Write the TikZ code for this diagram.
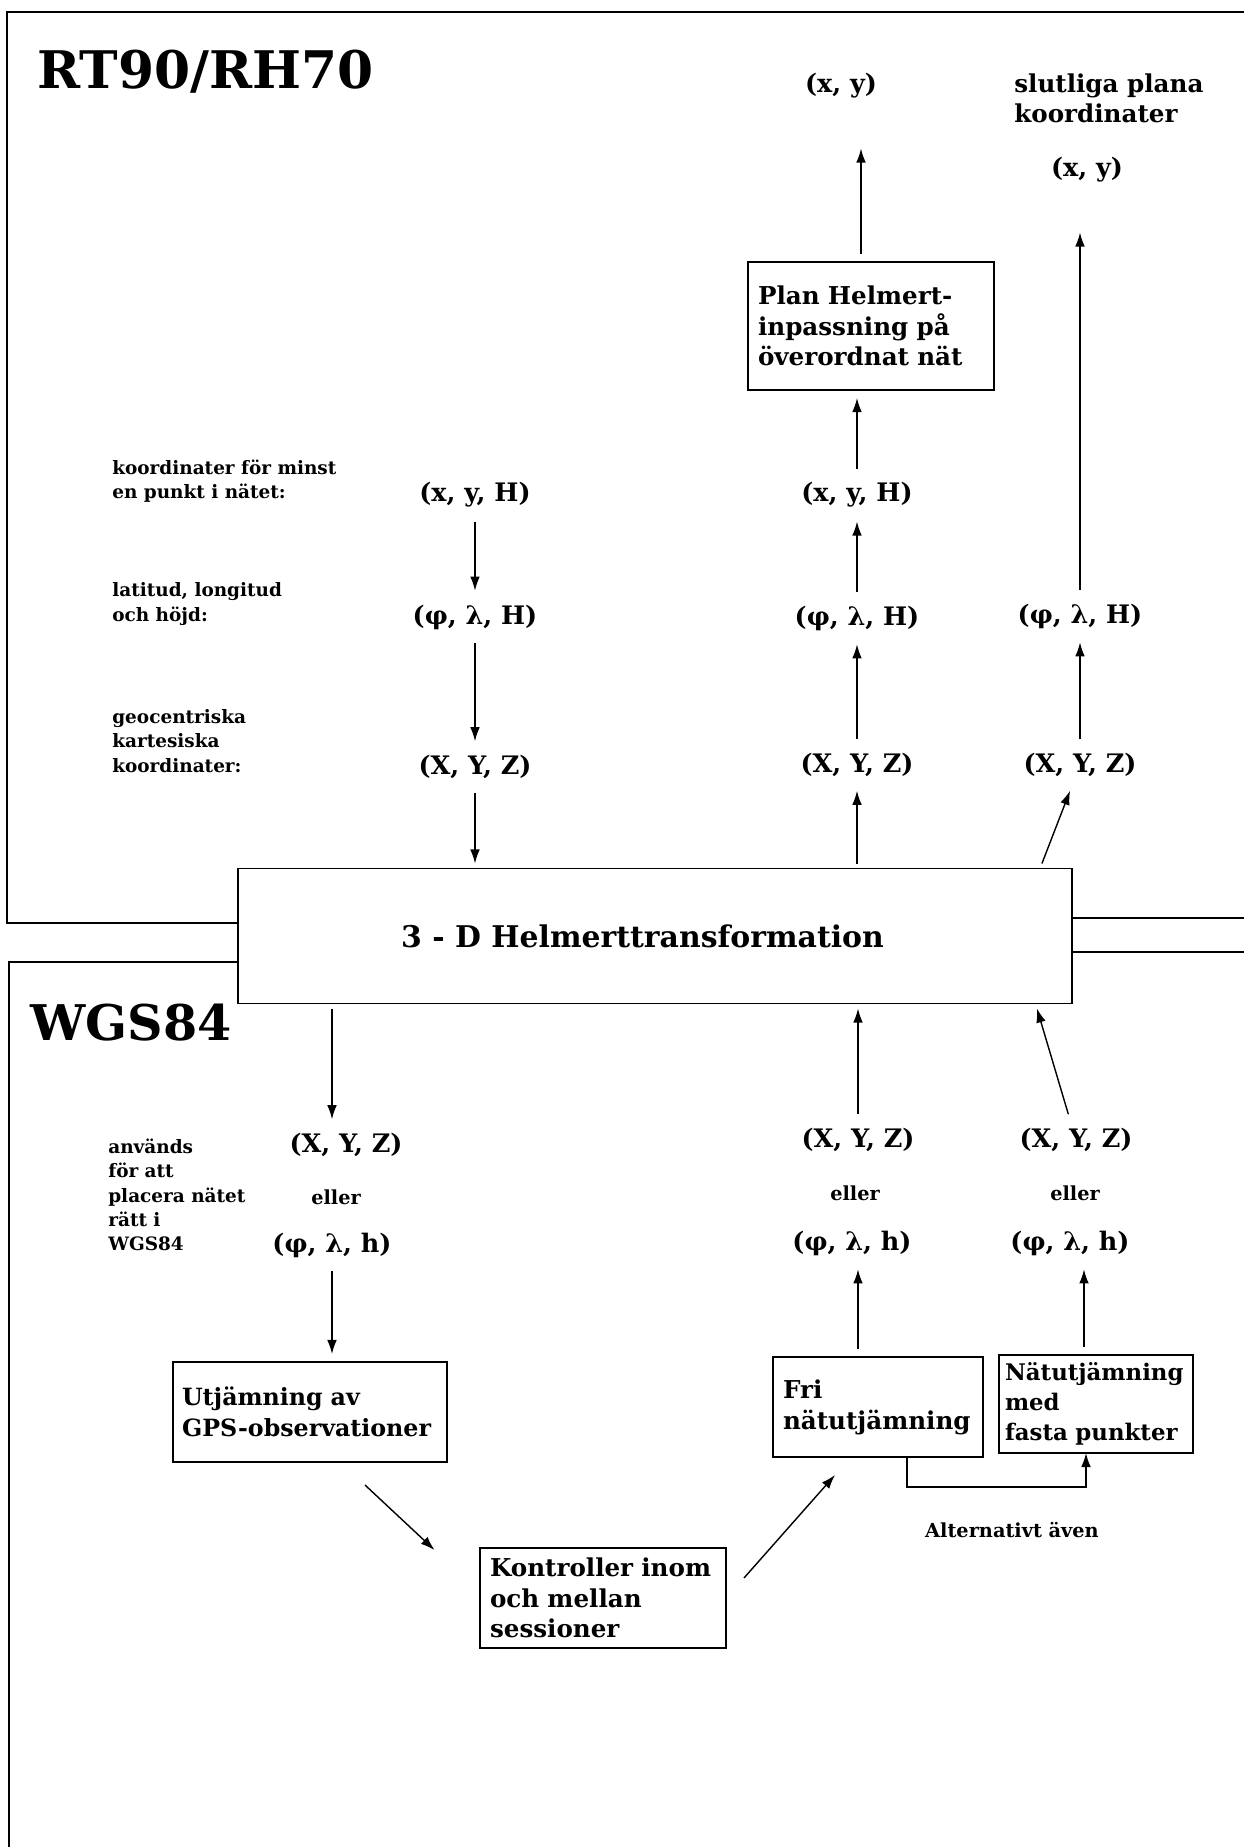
\documentclass[tikz,border=0pt]{standalone}
\usepackage{fontspec}
\setmainfont{DejaVu Serif}
\usetikzlibrary{positioning, arrows.meta}

\begin{document}
\begin{tikzpicture}[
        x=0.02cm, y=-0.02cm,
        frame/.style={line width=1.1pt},
        box/.style={draw, line width=1.1pt, align=left, inner xsep=0.2cm, inner ysep=0pt, outer sep=0.16cm, font=\fontsize{14}{17.5}\selectfont\bfseries},
        crd/.style={inner sep=0pt, outer xsep=0.08cm, outer ysep=0.28cm, font=\fontsize{14.5}{17}\selectfont\bfseries},
        lbl/.style={anchor=west, align=left, inner sep=0pt, font=\fontsize{10.5}{13.8}\selectfont\bfseries},
        title/.style={anchor=base west, inner sep=0pt, font=\fontsize{28}{30}\selectfont\bfseries},
        small/.style={inner sep=0pt, font=\fontsize{11}{13}\selectfont\bfseries},
        arrow/.style={-{Latex[length=8pt,width=5.5pt]}, line width=0.8pt}
        ]
        \useasboundingbox (0,0) rectangle (1244,1847);

        \draw[frame] (1244,12) -- (7,12) -- (7,923) -- (238,923);
        \draw[frame] (238,962) -- (9,962) -- (9,1847);
        \draw[frame] (1072,918) -- (1244,918);
        \draw[frame] (1072,952) -- (1244,952);

        \node[title, font=\fontsize{29.5}{31}\selectfont\bfseries] (rt) at (37,88) {RT90/RH70};
        \node[title] (wgs) at (30,1040) {WGS84};

        \node[box, minimum width=16.68cm, minimum height=2.7cm, outer sep=0.1cm, font=\fontsize{17}{20}\selectfont\bfseries] (helmert) at (655,936) {3 - D Helmerttransformation\hspace*{0.5cm}};

        \node[box, text width=4.52cm, minimum height=2.56cm] (plan) at (871,326) {Plan Helmert-\\inpassning på\\överordnat nät};
        \node[box, inner xsep=0.18cm, text width=5.12cm, minimum height=2cm, font=\fontsize{13.5}{17.5}\selectfont\bfseries] (utj) at (310,1412) {Utjämning av\\\mbox{GPS-observationer}};
        \node[box, text width=4.52cm, minimum height=2cm] (kont) at (603,1598) {Kontroller inom\\och mellan\\sessioner};
        \node[box, text width=3.8cm, minimum height=2cm] (fri) at (878,1407) {Fri\\nätutjämning};
        \node[box, inner xsep=0.12cm, text width=3.64cm, minimum height=1.96cm, font=\fontsize{13}{17}\selectfont\bfseries] (nat) at (1096,1404) {Nätutjämning\\med\\fasta punkter};

        \node[crd, outer ysep=1cm] (xyT) at (841,86) {(x, y)};
        \node[crd, outer ysep=1cm] (xyR) at (1087,170) {(x, y)};
        \node[lbl, font=\fontsize{14}{17}\selectfont\bfseries] (slut) at (1014,98) {slutliga plana\\koordinater};

        \node[lbl] (lblA) at (112,481) {koordinater för minst\\en punkt i nätet:};
        \node[lbl] (lblB) at (112,604) {latitud, longitud\\och höjd:};
        \node[lbl] (lblC) at (112,741) {geocentriska\\kartesiska\\koordinater:};
        \node[lbl] (lblD) at (108,1195) {används\\för att\\placera nätet\\rätt i\\WGS84};

        \node[crd] (xyhL) at (475,495) {(x, y, H)};
        \node[crd] (plhL) at (475,617) {(φ, λ, H)};
        \node[crd] (xyzL) at (475,767) {(X, Y, Z)};

        \node[crd] (xyhM) at (857,495) {(x, y, H)};
        \node[crd] (plhM) at (857,618) {(φ, λ, H)};
        \node[crd] (xyzM) at (857,765) {(X, Y, Z)};

        \node[crd] (plhR) at (1080,616) {(φ, λ, H)};
        \node[crd] (xyzR) at (1080,765) {(X, Y, Z)};

        \node[crd] (xyzLL) at (346,1145) {(X, Y, Z)};
        \node[small] (ellerLL) at (336,1197) {eller};
        \node[crd] (plhLL) at (332,1245) {(φ, λ, h)};

        \node[crd] (xyzML) at (858,1140) {(X, Y, Z)};
        \node[small] (ellerML) at (855,1193) {eller};
        \node[crd] (plhML) at (852,1243) {(φ, λ, h)};

        \node[crd] (xyzRL) at (1076,1140) {(X, Y, Z)};
        \node[small] (ellerRL) at (1075,1193) {eller};
        \node[crd] (plhRL) at (1070,1243) {(φ, λ, h)};

        \node[small] (alt) at (1012,1530) {Alternativt även};

        \draw[arrow] ([xshift=-0.2cm]plan.north) -- ([xshift=-0.2cm]plan.north |- xyT.south);
        \draw[arrow] (plhR) -- (plhR |- xyR.south);
        \draw[arrow] (xyhM) -- (xyhM |- plan.south);
        \draw[arrow] (plhM) -- (xyhM);
        \draw[arrow] (xyzM) -- (plhM);
        \draw[arrow] (helmert.north -| xyzM) -- (xyzM);
        \draw[arrow] (xyzR) -- (plhR);
        \draw[arrow] ([xshift=-0.7cm]helmert.north east) -- (xyzR);

        \draw[arrow] (xyhL) -- (plhL);
        \draw[arrow] (plhL) -- (xyzL);
        \draw[arrow] (xyzL) -- (xyzL |- helmert.north);

        \draw[arrow] (plhLL |- helmert.south) -- (plhLL |- xyzLL.north);
        \draw[arrow] (plhLL) -- (plhLL |- utj.north);
        \draw[arrow] ([xshift=-1.8cm,yshift=-0.3cm]utj.south east) -- ([xshift=-0.75cm,yshift=-0.2cm]kont.north west);
        \draw[arrow] ([xshift=0.2cm,yshift=0.4cm]kont.east) -- ([xshift=1.4cm,yshift=-0.2cm]fri.south west);
        \draw[arrow] (fri.north -| xyzML) -- (xyzML |- plhML.south);
        \draw[arrow] ([xshift=-0.24cm]nat.north) -- ([xshift=-0.24cm]nat.north |- plhRL.south);
        \draw[arrow] ([xshift=0.58cm,yshift=0.16cm]fri.south) -- ++(0,30) -| ([xshift=-0.2cm,yshift=0.16cm]nat.south);
        \draw[arrow] (xyzML) -- (xyzML |- helmert.south);
        \draw[arrow] (xyzRL) -- ([xshift=-0.8cm]helmert.south east);
    \end{tikzpicture}
\end{document}
